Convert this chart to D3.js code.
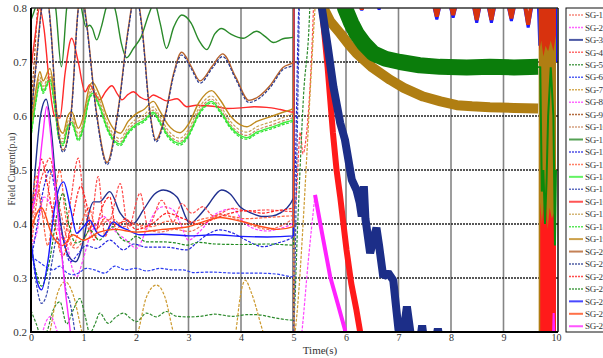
<!DOCTYPE html>
<html>
<head>
<meta charset="utf-8">
<script src="https://cdn.jsdelivr.net/npm/d3@7"></script>
<style>
  html, body { margin: 0; padding: 0; background: #fff; }
  svg { display: block; font-family: "Liberation Serif", "Times New Roman", serif; }
</style>
</head>
<body>
<svg id="chart" width="603" height="358"></svg>
<script>
// ---- data ----
const xTicks = [0, 1, 2, 3, 4, 5, 6, 7, 8, 9, 10];
const yTicks = [0.2, 0.3, 0.4, 0.5, 0.6, 0.7, 0.8];
const gridY = [0.3, 0.4, 0.5, 0.6, 0.7];
const gridX = [1, 2, 3, 4, 6, 7, 8, 9];

// tan / green cluster around 0.55-0.69 share the same time samples
const tCluster = [0,0.08,0.17,0.23,0.36,0.45,0.53,0.61,0.7,0.775,0.9,1.0,1.1,1.17,1.3,1.45,1.6,1.7,1.85,2.0,2.15,2.33,2.45,2.6,2.84,3.0,3.2,3.44,3.6,3.8,4.0,4.11,4.3,4.6,4.8,5.0];
const sg19Vals = [0.583,0.64,0.682,0.665,0.688,0.64,0.58,0.568,0.6,0.608,0.577,0.6,0.65,0.662,0.64,0.598,0.573,0.568,0.59,0.604,0.612,0.627,0.61,0.585,0.569,0.585,0.625,0.647,0.63,0.6,0.583,0.58,0.59,0.6,0.607,0.614];
const sg17Vals = [0.573,0.63,0.672,0.655,0.678,0.63,0.57,0.558,0.59,0.598,0.567,0.59,0.64,0.652,0.63,0.588,0.563,0.558,0.58,0.594,0.602,0.617,0.6,0.575,0.559,0.575,0.615,0.637,0.62,0.59,0.573,0.57,0.58,0.59,0.597,0.604];
const sg10Vals = [0.567,0.624,0.666,0.649,0.672,0.624,0.564,0.552,0.584,0.592,0.561,0.584,0.634,0.646,0.624,0.582,0.557,0.552,0.574,0.588,0.596,0.611,0.594,0.569,0.553,0.569,0.609,0.631,0.614,0.584,0.567,0.564,0.574,0.584,0.591,0.598];
const sg18Vals = [0.56,0.617,0.659,0.642,0.665,0.617,0.557,0.545,0.577,0.585,0.554,0.577,0.627,0.639,0.617,0.575,0.55,0.545,0.567,0.581,0.589,0.604,0.587,0.562,0.546,0.562,0.602,0.624,0.607,0.577,0.56,0.557,0.567,0.577,0.584,0.591];
const sg14Vals = [0.563,0.62,0.662,0.645,0.668,0.62,0.56,0.548,0.58,0.588,0.557,0.58,0.63,0.642,0.62,0.578,0.553,0.548,0.57,0.584,0.592,0.607,0.59,0.565,0.549,0.565,0.605,0.627,0.61,0.58,0.563,0.56,0.57,0.58,0.587,0.594];

const sg1 = [[0,0.37],[0.12,0.46],[0.25,0.41],[0.4,0.5],[0.55,0.43],[0.7,0.37],[0.85,0.355],[1.0,0.37],[1.15,0.395],[1.35,0.4],[1.55,0.41],[1.75,0.395],[1.95,0.4],[2.2,0.39],[2.45,0.385],[2.75,0.39],[3.0,0.386],[3.3,0.4],[3.6,0.418],[3.9,0.41],[4.2,0.398],[4.5,0.39],[4.8,0.398],[5.0,0.408],[5.01,0.19]];
const sg2 = [[0,0.36],[0.1,0.38],[0.25,0.45],[0.4,0.43],[0.55,0.38],[0.68,0.364],[0.78,0.32],[0.87,0.302],[0.98,0.33],[1.12,0.377],[1.25,0.4],[1.38,0.414],[1.57,0.39],[1.82,0.37],[2.01,0.355],[2.2,0.39],[2.35,0.42],[2.52,0.432],[2.71,0.426],[2.85,0.4],[3.0,0.37],[3.2,0.385],[3.54,0.42],[3.85,0.428],[4.0,0.41],[4.17,0.395],[4.49,0.387],[4.75,0.392],[5.0,0.403],[5.01,0.86]];
const sg3 = [[0,0.4],[0.08,0.5],[0.18,0.6],[0.29,0.631],[0.38,0.58],[0.48,0.47],[0.6,0.38],[0.72,0.34],[0.85,0.33],[1.0,0.37],[1.1,0.42],[1.19,0.441],[1.31,0.441],[1.5,0.46],[1.7,0.42],[1.95,0.401],[2.14,0.426],[2.35,0.455],[2.52,0.463],[2.78,0.45],[3.03,0.401],[3.2,0.415],[3.35,0.432],[3.63,0.463],[3.8,0.455],[3.98,0.432],[4.2,0.42],[4.42,0.414],[4.6,0.415],[4.74,0.42],[5.0,0.448],[5.01,0.86]];
const sg4 = [[0,0.35],[0.12,0.45],[0.25,0.5],[0.36,0.522],[0.5,0.44],[0.62,0.37],[0.75,0.44],[0.9,0.522],[1.0,0.45],[1.12,0.386],[1.28,0.488],[1.41,0.377],[1.55,0.42],[1.7,0.475],[1.85,0.392],[2.08,0.457],[2.23,0.395],[2.49,0.444],[2.71,0.404],[2.87,0.438],[3.06,0.42],[3.28,0.432],[3.47,0.415],[3.85,0.429],[4.1,0.424],[4.49,0.426],[5.0,0.423],[5.05,0.45],[5.13,0.57],[5.18,0.53],[5.24,0.56],[5.38,0.8],[5.4,0.86]];
const sg5 = [[0,0.24],[0.1,0.215],[0.2,0.19],[0.3,0.2],[0.42,0.24],[0.55,0.256],[0.68,0.215],[0.8,0.24],[0.93,0.262],[1.03,0.23],[1.12,0.198],[1.22,0.215],[1.31,0.235],[1.47,0.216],[1.62,0.228],[1.76,0.235],[1.9,0.225],[2.01,0.219],[2.2,0.235],[2.39,0.228],[2.58,0.238],[2.78,0.229],[3.0,0.228],[3.22,0.229],[3.5,0.233],[3.85,0.229],[4.1,0.232],[4.3,0.232],[4.6,0.227],[5.0,0.222],[5.08,0.4],[5.19,0.636],[5.31,0.8],[5.33,0.86]];
const sg6 = [[0,0.34],[0.15,0.33],[0.3,0.32],[0.42,0.315],[0.55,0.322],[0.68,0.31],[0.8,0.306],[0.92,0.31],[1.05,0.318],[1.21,0.315],[1.4,0.309],[1.6,0.322],[1.8,0.315],[2.0,0.318],[2.2,0.313],[2.46,0.318],[2.7,0.315],[2.9,0.315],[3.1,0.31],[3.4,0.311],[3.92,0.309],[4.3,0.309],[4.7,0.307],[5.0,0.302],[5.01,0.86]];
const sg7 = [[0,0.12],[0.25,0.16],[0.36,0.2],[0.5,0.27],[0.65,0.293],[0.8,0.27],[0.97,0.2],[1.2,0.12],[1.6,0.1],[1.9,0.16],[2.04,0.2],[2.2,0.265],[2.39,0.287],[2.55,0.265],[2.71,0.2],[3.0,0.12],[3.5,0.12],[3.8,0.17],[3.9,0.2],[3.98,0.262],[4.08,0.296],[4.2,0.272],[4.42,0.2],[4.7,0.12],[4.95,0.15],[5.03,0.2],[5.41,0.8],[5.45,0.86]];
const sg8 = [[0,0.15],[0.15,0.18],[0.22,0.2],[0.3,0.222],[0.38,0.229],[0.45,0.215],[0.5,0.2],[0.6,0.15],[5.1,0.15],[5.16,0.2],[5.28,0.33],[5.41,0.454]];
const sg9 = [[0,0.62],[0.06,0.7],[0.12,0.79],[0.18,0.86],[5.0,0.86]];
const sg11 = [[0,0.778],[0.08,0.8],[0.2,0.85],[0.35,0.85],[0.47,0.8],[0.58,0.691],[0.68,0.8],[0.8,0.86],[0.9,0.84],[0.98,0.79],[1.05,0.765],[1.12,0.768],[1.17,0.762],[1.25,0.741],[1.34,0.765],[1.43,0.8],[1.52,0.82],[1.62,0.79],[1.72,0.735],[1.82,0.708],[1.95,0.725],[2.1,0.747],[2.25,0.79],[2.35,0.81],[2.46,0.772],[2.58,0.725],[2.72,0.765],[2.87,0.787],[3.05,0.772],[3.2,0.74],[3.35,0.723],[3.5,0.752],[3.63,0.762],[3.8,0.752],[4.04,0.744],[4.3,0.757],[4.45,0.748],[4.62,0.736],[4.8,0.743],[5.0,0.746],[5.01,0.86]];
const sg12 = [[0,0.33],[0.12,0.4],[0.25,0.47],[0.36,0.5],[0.48,0.45],[0.6,0.38],[0.75,0.33],[0.9,0.345],[1.05,0.36],[1.25,0.355],[1.5,0.37],[1.76,0.352],[1.95,0.363],[2.2,0.357],[2.58,0.357],[2.97,0.352],[3.15,0.365],[3.35,0.38],[3.6,0.389],[3.85,0.383],[4.1,0.37],[4.42,0.358],[4.7,0.365],[5.0,0.377],[5.03,0.48],[5.1,0.8],[5.15,0.86]];
const sg13 = [[0,0.4],[0.1,0.49],[0.2,0.43],[0.32,0.36],[0.45,0.45],[0.55,0.5],[0.65,0.42],[0.8,0.36],[0.95,0.4],[1.1,0.43],[1.25,0.39],[1.4,0.41],[1.6,0.4],[1.8,0.405],[2.0,0.4],[2.3,0.395],[2.6,0.405],[2.9,0.4],[3.3,0.41],[3.7,0.415],[4.1,0.41],[4.5,0.412],[5.0,0.415],[5.01,0.19]];
const sg15 = [[0,0.37],[0.1,0.29],[0.2,0.253],[0.3,0.27],[0.4,0.33],[0.5,0.375],[0.58,0.35],[0.66,0.28],[0.74,0.256],[0.83,0.204],[0.9,0.15],[1.2,0.1],[4.9,0.1],[5.0,0.2],[5.06,0.5],[5.12,0.86]];
const sg16 = [[0,0.686],[0.08,0.75],[0.165,0.8],[0.25,0.76],[0.35,0.66],[0.45,0.6],[0.55,0.596],[0.65,0.68],[0.775,0.744],[0.9,0.7],[1.03,0.645],[1.12,0.658],[1.2,0.645],[1.31,0.63],[1.42,0.645],[1.54,0.656],[1.65,0.64],[1.73,0.63],[1.85,0.64],[1.95,0.645],[2.08,0.635],[2.2,0.63],[2.33,0.639],[2.45,0.634],[2.58,0.628],[2.78,0.632],[2.97,0.617],[3.15,0.62],[3.35,0.619],[3.55,0.617],[3.73,0.614],[4.0,0.615],[4.25,0.617],[4.49,0.616],[4.75,0.612],[5.0,0.607],[5.01,0.86]];
const sg20 = [[0,0.6],[0.1,0.7],[0.2,0.8],[0.28,0.84],[0.38,0.76],[0.48,0.612],[0.61,0.537],[0.77,0.612],[0.9,0.8],[0.97,0.83],[1.05,0.78],[1.24,0.612],[1.45,0.514],[1.66,0.612],[1.85,0.76],[1.99,0.83],[2.12,0.76],[2.25,0.62],[2.38,0.556],[2.55,0.6],[2.72,0.68],[2.87,0.718],[3.05,0.692],[3.22,0.665],[3.45,0.692],[3.65,0.715],[3.9,0.672],[4.15,0.629],[4.35,0.637],[4.55,0.656],[4.8,0.69],[5.0,0.7],[5.01,0.86]];
const sg21 = [[0,0.596],[0.1,0.696],[0.2,0.796],[0.28,0.836],[0.38,0.756],[0.48,0.608],[0.61,0.533],[0.77,0.608],[0.9,0.796],[0.97,0.826],[1.05,0.776],[1.24,0.608],[1.45,0.51],[1.66,0.608],[1.85,0.756],[1.99,0.826],[2.12,0.756],[2.25,0.616],[2.38,0.552],[2.55,0.596],[2.72,0.676],[2.87,0.713],[3.05,0.688],[3.22,0.661],[3.45,0.688],[3.65,0.71],[3.9,0.668],[4.15,0.625],[4.35,0.633],[4.55,0.652],[4.8,0.686],[5.0,0.695],[5.01,0.86]];
const sg22 = [[0,0.41],[0.1,0.47],[0.2,0.52],[0.3,0.48],[0.45,0.4],[0.6,0.34],[0.75,0.39],[0.95,0.47],[1.05,0.44],[1.2,0.37],[1.32,0.42],[1.5,0.45],[1.62,0.39],[1.8,0.41],[2.0,0.39],[2.3,0.4],[2.6,0.42],[2.9,0.41],[3.2,0.4],[3.5,0.41],[3.8,0.42],[4.1,0.425],[4.4,0.42],[4.7,0.425],[5.0,0.43],[5.01,0.86]];
const sg23 = [[0,0.36],[0.1,0.31],[0.2,0.285],[0.35,0.33],[0.5,0.42],[0.61,0.457],[0.72,0.4],[0.85,0.365],[1.0,0.372],[1.12,0.389],[1.3,0.37],[1.45,0.386],[1.56,0.395],[1.7,0.375],[1.85,0.367],[2.0,0.377],[2.2,0.367],[2.5,0.367],[2.75,0.365],[2.97,0.361],[3.2,0.366],[3.5,0.363],[4.0,0.362],[4.5,0.363],[5.0,0.361],[5.01,0.86]];
const sg24 = [[0,0.37],[0.1,0.3],[0.2,0.278],[0.32,0.33],[0.45,0.43],[0.62,0.478],[0.75,0.43],[0.87,0.383],[1.0,0.395],[1.12,0.407],[1.25,0.385],[1.37,0.377],[1.57,0.404],[1.7,0.395],[1.82,0.39],[2.08,0.38],[2.5,0.381],[3.0,0.378],[3.5,0.38],[4.0,0.377],[4.5,0.376],[5.0,0.378],[5.015,0.86]];
const sg25 = [[0,0.39],[0.2,0.43],[0.4,0.38],[0.6,0.36],[0.8,0.38],[1.0,0.37],[1.3,0.385],[1.6,0.39],[2.0,0.385],[2.5,0.39],[3.0,0.395],[3.3,0.405],[3.6,0.412],[4.0,0.405],[4.4,0.395],[4.7,0.39],[5.0,0.395],[5.01,0.86]];
const sg26 = [[0,0.42],[0.12,0.47],[0.22,0.56],[0.3,0.617],[0.37,0.57],[0.45,0.48],[0.55,0.38],[0.65,0.28],[0.75,0.2],[0.85,0.12],[5.0,0.12]];

// noisy / saturated segments after the 5 s event
const sg11Band = [[5.9,0.86],[5.98,0.8],[6.1,0.772],[6.2,0.753],[6.35,0.733],[6.52,0.716],[6.75,0.706],[7.03,0.7],[7.4,0.694],[7.79,0.691],[8.3,0.69],[8.74,0.691],[9.2,0.69],[9.66,0.691]];
const sg19Band = [[5.5,0.86],[5.57,0.8],[5.7,0.775],[5.89,0.753],[6.05,0.733],[6.2,0.716],[6.5,0.69],[6.84,0.667],[7.1,0.652],[7.47,0.636],[7.8,0.627],[8.11,0.62],[8.4,0.618],[8.74,0.616],[9.2,0.615],[9.66,0.614]];
const sg3Band = [[5.48,0.86],[5.54,0.8],[5.65,0.73],[5.76,0.654],[5.89,0.587],[5.98,0.556],[6.11,0.482],[6.2,0.463],[6.26,0.44],[6.3,0.414],[6.34,0.47],[6.37,0.41],[6.46,0.346],[6.52,0.37],[6.58,0.393],[6.63,0.36],[6.71,0.302],[6.8,0.31],[6.9,0.296],[6.95,0.25],[7.0,0.204],[7.08,0.19],[7.16,0.247],[7.24,0.19],[7.42,0.19],[7.45,0.212],[7.48,0.19],[7.72,0.19],[7.75,0.206],[7.78,0.19]];
const sg16Band = [[5.48,0.86],[5.54,0.8],[5.65,0.69],[5.75,0.57],[5.82,0.5],[5.89,0.45],[6.01,0.352],[6.1,0.29],[6.2,0.24],[6.27,0.2],[6.3,0.18]];
const sg26Band = [[5.41,0.454],[5.55,0.38],[5.7,0.302],[5.85,0.25],[5.98,0.204],[6.02,0.18]];
const sg24Top = [[5.02,0.86],[6.2,0.82],[6.3,0.796],[6.4,0.82],[6.55,0.82],[6.63,0.797],[6.7,0.82],[7.63,0.82],[7.73,0.779],[7.83,0.82],[7.94,0.82],[8.04,0.782],[8.14,0.82],[8.39,0.82],[8.49,0.773],[8.59,0.82],[8.67,0.82],[8.77,0.773],[8.87,0.82],[9.05,0.82],[9.15,0.776],[9.25,0.82],[9.37,0.82],[9.47,0.764],[9.57,0.82],[9.66,0.82],[9.69,0.73],[9.72,0.8],[9.75,0.76],[9.78,0.82],[9.95,0.82],[9.97,0.7],[9.99,0.8],[10.0,0.7]];
const sg25Top = [[5.02,0.86],[6.25,0.82],[6.3,0.797],[6.35,0.82],[7.65,0.82],[7.73,0.784],[7.81,0.82],[7.96,0.82],[8.04,0.787],[8.12,0.82],[8.41,0.82],[8.49,0.778],[8.57,0.82],[8.69,0.82],[8.77,0.778],[8.85,0.82],[9.07,0.82],[9.15,0.781],[9.23,0.82],[9.39,0.82],[9.47,0.769],[9.55,0.82],[9.66,0.82]];
const sg11End = [[9.66,0.691],[9.7,0.69],[9.73,0.46],[9.76,0.5],[9.79,0.4],[9.82,0.48],[9.85,0.6],[9.9,0.69],[9.95,0.6],[9.98,0.36],[10.0,0.5]];
const sg26End = [[9.94,0.18],[9.955,0.235],[9.97,0.18]];

// saturated blocks in the last 0.3 s: [t, lower, upper]
const sg19Block = [[9.67,0.2,0.8],[10.0,0.2,0.8]];
const sg16Block = [[9.7,0.2,0.44],[9.73,0.2,0.4],[9.76,0.2,0.43],[9.8,0.2,0.46],[9.84,0.2,0.39],[9.88,0.2,0.43],[9.92,0.2,0.41],[9.96,0.2,0.42],[10.0,0.2,0.36]];
const sg25Block = [[9.68,0.72,0.8],[9.72,0.74,0.8],[9.76,0.71,0.8],[9.8,0.73,0.8],[9.85,0.72,0.8],[9.9,0.74,0.8],[9.95,0.72,0.8],[10.0,0.75,0.8]];

const zip = (ts, vs) => ts.map((t, i) => [t, vs[i]]);
const sg19 = zip(tCluster, sg19Vals).concat([[5.01, 0.86]]);
const sg17 = zip(tCluster, sg17Vals).concat([[5.01, 0.19]]);
const sg10 = zip(tCluster, sg10Vals).concat([[5.01, 0.86]]);
const sg18 = zip(tCluster, sg18Vals).concat([[5.01, 0.86]]);
const sg14 = zip(tCluster, sg14Vals).concat([[5.01, 0.86]]);

// ---- styles ----
const series = [
  { name: 'SG-1',  data: sg1,  color: '#f26b5b', dash: true },
  { name: 'SG-2',  data: sg2,  color: '#ff3dff', dash: true },
  { name: 'SG-3',  data: sg3,  color: '#1f2f8f', dash: false },
  { name: 'SG-4',  data: sg4,  color: '#ff4a4a', dash: true },
  { name: 'SG-5',  data: sg5,  color: '#2e8b2e', dash: true },
  { name: 'SG-6',  data: sg6,  color: '#2b3cf0', dash: true },
  { name: 'SG-7',  data: sg7,  color: '#cc9a30', dash: true },
  { name: 'SG-8',  data: sg8,  color: '#ff44ff', dash: true },
  { name: 'SG-9',  data: sg9,  color: '#a0460f', dash: true },
  { name: 'SG-10', data: sg10, color: '#c98a60', dash: true },
  { name: 'SG-11', data: sg11, color: '#2a8a2a', dash: false },
  { name: 'SG-12', data: sg12, color: '#2424e0', dash: true },
  { name: 'SG-13', data: sg13, color: '#ff6040', dash: true },
  { name: 'SG-14', data: sg14, color: '#3cf03c', dash: false },
  { name: 'SG-15', data: sg15, color: '#3748b0', dash: true },
  { name: 'SG-16', data: sg16, color: '#ff2a2a', dash: false },
  { name: 'SG-17', data: sg17, color: '#c9a455', dash: true },
  { name: 'SG-18', data: sg18, color: '#2fe02f', dash: true },
  { name: 'SG-19', data: sg19, color: '#bf8a1e', dash: false },
  { name: 'SG-20', data: sg20, color: '#b5622c', dash: false },
  { name: 'SG-21', data: sg21, color: '#24368f', dash: true },
  { name: 'SG-22', data: sg22, color: '#ff2020', dash: true },
  { name: 'SG-23', data: sg23, color: '#1e8a1e', dash: true },
  { name: 'SG-24', data: sg24, color: '#1a1aff', dash: false },
  { name: 'SG-25', data: sg25, color: '#ff4d1a', dash: false },
  { name: 'SG-26', data: sg26, color: '#ff2aff', dash: false }
];

const bands = [
  { data: sg19Band, color: '#b07e12', width: 10 },
  { data: sg11Band, color: '#0b7d0b', width: 16 },
  { data: sg16Band, color: '#ff1a1a', width: 6 },
  { data: sg3Band,  color: '#1c2e88', width: 8 },
  { data: sg26Band, color: '#ff22ff', width: 4 },
  { data: sg24Top,  color: '#1a1aff', width: 3 },
  { data: sg25Top,  color: '#d8320e', width: 4 }
];
const blocks = [
  { data: sg19Block, color: '#b07e12' },
  { data: sg16Block, color: '#ff1a1a' },
  { data: sg25Block, color: '#d8320e' }
];
const endLines = [
  { data: sg11End, color: '#0b8a0b', width: 2 },
  { data: sg26End, color: '#ff22ff', width: 2 }
];

// ---- layout ----
const svg = d3.select('#chart');
const x = d3.scaleLinear().domain([0, 10]).range([31, 556]);
const y = d3.scaleLinear().domain([0.2, 0.8]).range([332, 8]);
const plotRight = 558;

svg.append('defs').append('clipPath').attr('id', 'plotClip')
  .append('rect')
  .attr('x', x(0)).attr('y', y(0.8))
  .attr('width', plotRight - x(0)).attr('height', y(0.2) - y(0.8));

// grid
const grid = svg.append('g');
grid.selectAll('line.gx').data(gridX).enter().append('line')
  .attr('x1', d => x(d)).attr('x2', d => x(d))
  .attr('y1', y(0.8)).attr('y2', y(0.2))
  .attr('stroke', '#858585').attr('stroke-width', 1.6);
grid.append('line')
  .attr('x1', x(5)).attr('x2', x(5)).attr('y1', y(0.8)).attr('y2', y(0.2))
  .attr('stroke', '#111').attr('stroke-width', 2);
grid.selectAll('line.gy').data(gridY).enter().append('line')
  .attr('x1', x(0)).attr('x2', plotRight)
  .attr('y1', d => y(d)).attr('y2', d => y(d))
  .attr('stroke', '#222').attr('stroke-width', 1.4)
  .attr('stroke-dasharray', '2,1');

// lines
const lineSmooth = d3.line().x(d => x(d[0])).y(d => y(d[1])).curve(d3.curveMonotoneX);
const lineRaw = d3.line().x(d => x(d[0])).y(d => y(d[1]));
const blockArea = d3.area().x(d => x(d[0])).y0(d => y(d[1])).y1(d => y(d[2]));

const plot = svg.append('g').attr('clip-path', 'url(#plotClip)');
plot.selectAll('path.sg').data(series).enter().append('path')
  .attr('class', 'sg')
  .attr('d', d => lineSmooth(d.data))
  .attr('fill', 'none')
  .attr('stroke', d => d.color)
  .attr('stroke-width', d => d.dash ? 1.2 : 1.4)
  .attr('stroke-dasharray', d => d.dash ? '3,1.5' : null);

plot.selectAll('path.band').data(bands).enter().append('path')
  .attr('class', 'band')
  .attr('d', d => lineRaw(d.data))
  .attr('fill', 'none')
  .attr('stroke', d => d.color)
  .attr('stroke-width', d => d.width)
  .attr('stroke-linejoin', 'bevel');

plot.selectAll('path.block').data(blocks).enter().append('path')
  .attr('class', 'block')
  .attr('d', d => blockArea(d.data))
  .attr('fill', d => d.color);

plot.selectAll('path.end').data(endLines).enter().append('path')
  .attr('class', 'end')
  .attr('d', d => lineRaw(d.data))
  .attr('fill', 'none')
  .attr('stroke', d => d.color)
  .attr('stroke-width', d => d.width);

// frame
const frame = svg.append('g');
frame.append('line').attr('x1', x(0)).attr('x2', plotRight).attr('y1', y(0.8)).attr('y2', y(0.8))
  .attr('stroke', '#333').attr('stroke-width', 1.5);
frame.append('line').attr('x1', plotRight).attr('x2', plotRight).attr('y1', y(0.8)).attr('y2', y(0.2))
  .attr('stroke', '#111').attr('stroke-width', 1.5);
frame.append('line').attr('x1', x(0)).attr('x2', x(0)).attr('y1', y(0.8)).attr('y2', y(0.2) + 1)
  .attr('stroke', '#000').attr('stroke-width', 2);
frame.append('line').attr('x1', x(0)).attr('x2', plotRight).attr('y1', y(0.2)).attr('y2', y(0.2))
  .attr('stroke', '#000').attr('stroke-width', 2);

// axes
const yAxis = svg.append('g').attr('transform', `translate(${x(0)},0)`)
  .call(d3.axisLeft(y).tickValues(yTicks).tickFormat(d3.format('.1f')).tickSize(0).tickPadding(4));
yAxis.select('.domain').remove();
yAxis.selectAll('text').attr('font-size', 11).attr('fill', '#333')
  .attr('font-family', '"Liberation Serif", serif');

const xAxis = svg.append('g').attr('transform', `translate(0,${y(0.2)})`)
  .call(d3.axisBottom(x).tickValues(xTicks).tickFormat(d3.format('d')).tickSize(0).tickPadding(2));
xAxis.select('.domain').remove();
xAxis.selectAll('text').attr('font-size', 10).attr('fill', '#333')
  .attr('font-family', '"Liberation Serif", serif');

svg.append('text')
  .attr('x', 320).attr('y', 354)
  .attr('text-anchor', 'middle')
  .attr('font-size', 11).attr('fill', '#333')
  .text('Time(s)');

svg.append('text')
  .attr('transform', 'translate(15,169) rotate(-90)')
  .attr('text-anchor', 'middle')
  .attr('font-size', 10).attr('fill', '#333')
  .text('Field Current(p.u)');

// legend (the page edge cuts it, as in the reference)
const legend = svg.append('g');
legend.append('rect')
  .attr('x', 566).attr('y', 8).attr('width', 60).attr('height', 324)
  .attr('fill', '#fff').attr('stroke', '#111').attr('stroke-width', 1);
const entry = legend.selectAll('g.entry').data(series).enter().append('g')
  .attr('class', 'entry')
  .attr('transform', (d, i) => `translate(0,${15 + i * 12.45})`);
entry.append('line')
  .attr('x1', 569).attr('x2', 583).attr('y1', 0).attr('y2', 0)
  .attr('stroke', d => d.color)
  .attr('stroke-opacity', 0.8)
  .attr('stroke-width', d => d.dash ? 1.5 : 2)
  .attr('stroke-dasharray', d => d.dash ? '2,1' : null);
entry.append('text')
  .attr('x', 585).attr('y', 0).attr('dy', '0.35em')
  .attr('font-size', 9).attr('letter-spacing', '-0.3px').attr('fill', '#333')
  .text(d => d.name);
</script>
</body>
</html>
